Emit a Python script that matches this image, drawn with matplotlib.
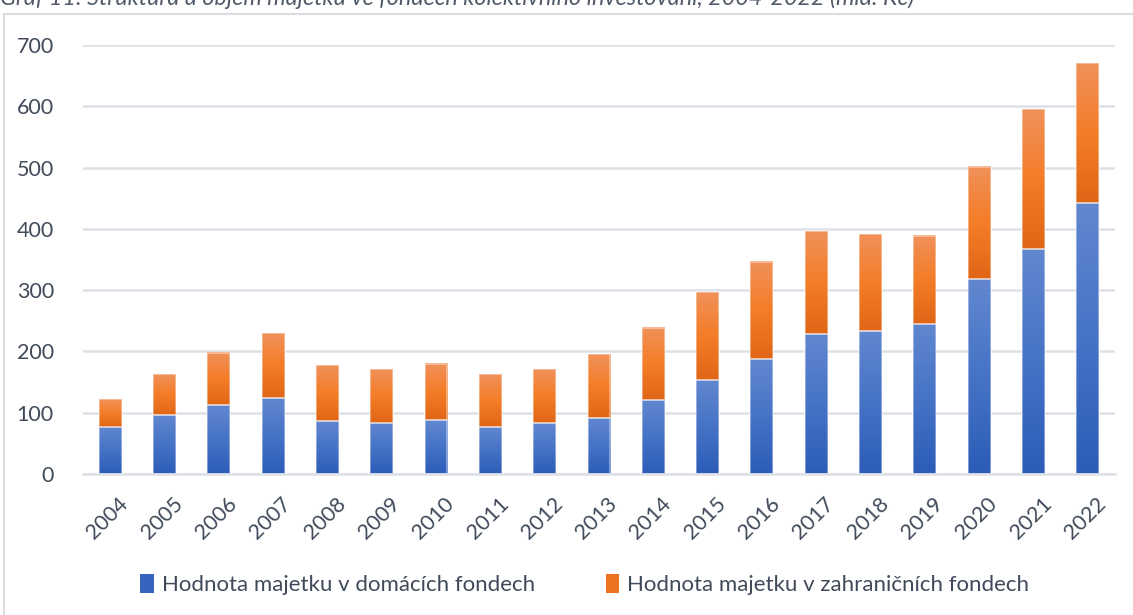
import matplotlib.pyplot as plt
import matplotlib.transforms as mtransforms
from matplotlib.colors import LinearSegmentedColormap
from matplotlib.patches import Rectangle
import numpy as np

years = [str(y) for y in range(2004, 2023)]
domestic = [77, 97, 112, 124, 87, 84, 88, 77, 83, 92, 121, 154, 187, 228, 234, 245, 318, 367, 442]
total = [122, 163, 197, 230, 178, 171, 180, 163, 171, 196, 239, 297, 346, 396, 392, 389, 501, 595, 670]
foreign = [t - d for t, d in zip(total, domestic)]

labels = ["Hodnota majetku v domácích fondech", "Hodnota majetku v zahraničních fondech"]
title = "Graf 11: Struktura a objem majetku ve fondech kolektivního investování, 2004-2022 (mld. Kč)"

plt.rcParams['font.family'] = ['Lato', 'DejaVu Sans']

blue_cmap = LinearSegmentedColormap.from_list("b", ["#2c5cb8", "#4673c6", "#6287cf"])
orange_cmap = LinearSegmentedColormap.from_list("o", ["#e06617", "#f47d28", "#f0915a"])

fig = plt.figure(figsize=(11.33, 6.15), dpi=100)
ax = fig.add_axes([0.0733, 0.2293, 0.9107, 0.6975])

grad = np.linspace(0, 1, 256).reshape(-1, 1)
w = 0.42
x = np.arange(len(years))


def gradient_bar(ax, xc, bottom, height, cmap):
    ax.imshow(grad, cmap=cmap, origin='lower', aspect='auto',
              extent=(xc - w / 2, xc + w / 2, bottom, bottom + height), zorder=2)
    ax.add_patch(Rectangle((xc - w / 2, bottom), w, height, fill=False,
                           edgecolor="white", alpha=0.45, lw=1.2, zorder=3))


for i in range(len(years)):
    gradient_bar(ax, x[i], 0, domestic[i], blue_cmap)
    gradient_bar(ax, x[i], domestic[i], foreign[i], orange_cmap)

ax.set_xlim(-0.5, len(years) - 0.5)
ax.set_ylim(0, 700)
ax.set_yticks(range(0, 701, 100))
ax.grid(axis='y', color='#dde1e6', lw=1.8, zorder=0)
ax.set_axisbelow(True)
for s in ['top', 'right', 'left']:
    ax.spines[s].set_visible(False)
ax.spines['bottom'].set_color('#dde1e6')
ax.spines['bottom'].set_linewidth(1.8)
ax.tick_params(length=0, labelsize=15.5, colors='#404a5a', pad=21)
ax.tick_params(axis='x', pad=14)
ax.set_xticks(x)
ax.set_xticklabels(years, rotation=45, ha='right', rotation_mode='anchor')
offset = mtransforms.ScaledTranslation(8 / 100, 0, fig.dpi_scale_trans)
for lbl in ax.get_xticklabels():
    lbl.set_transform(lbl.get_transform() + offset)

handles = [Rectangle((0, 0), 1, 1, fc="#3563bd"), Rectangle((0, 0), 1, 1, fc="#ec7322")]
fig.legend(handles, labels, loc='center', bbox_to_anchor=(0.516, 0.049), ncol=2,
           frameon=False, fontsize=16, labelcolor='#404a5a', handlelength=0.6,
           handleheight=0.9, handletextpad=0.35, columnspacing=3.2)

fig.patches.append(Rectangle((4 / 1133, -0.05), 1.2, 1 - 14 / 615 + 0.05, transform=fig.transFigure,
                             fill=False, edgecolor='#d9dde2', lw=1.5))
fig.text(0.0, 1 - 5 / 615, title, fontsize=16.8, style='italic', color='#505a68',
         ha='left', va='baseline')

fig.savefig("out.png", dpi=100)
